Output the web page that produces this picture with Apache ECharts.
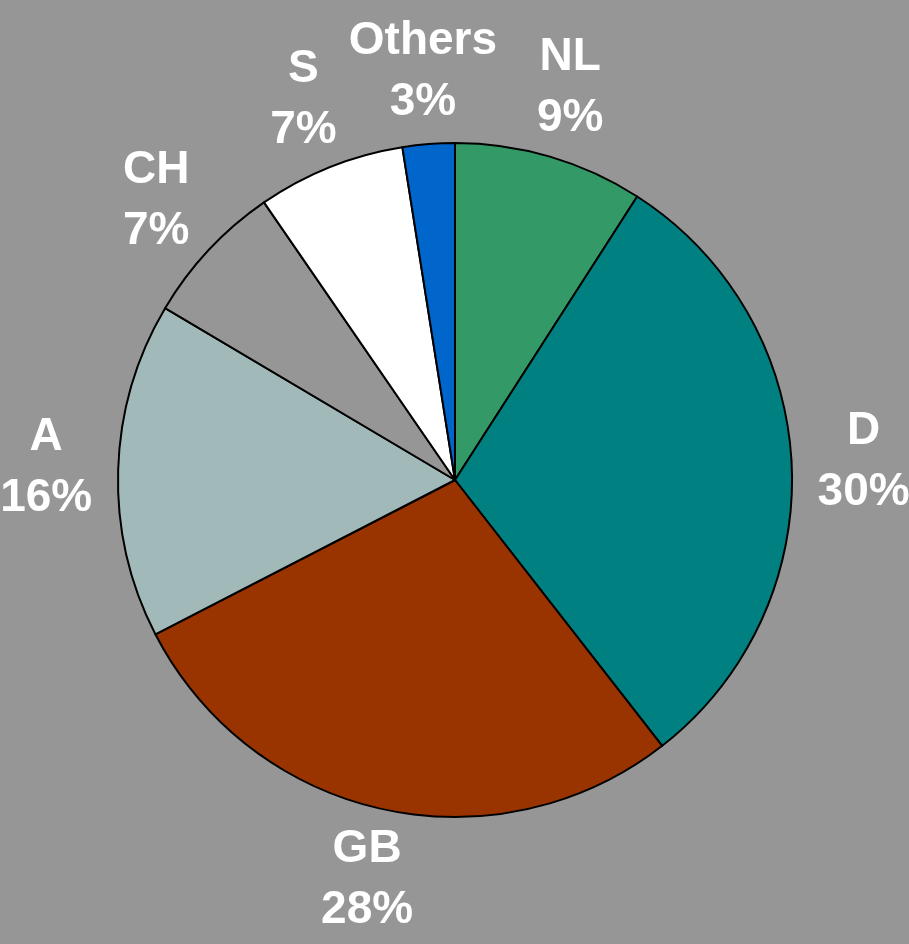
<!DOCTYPE html>
<html>
<head>
<meta charset="utf-8">
<script src="https://cdn.jsdelivr.net/npm/echarts@6/dist/echarts.min.js"></script>
<style>
  html, body { margin: 0; padding: 0; background: #969696; }
  #pie { width: 909px; height: 944px; }
</style>
</head>
<body>
<div id="pie"></div>
<script>
// shares, clockwise from 12 o'clock
var countries = ['NL', 'D', 'GB', 'A', 'CH', 'S', 'Others'];
var shares = [9.1, 30.4, 28.0, 16.1, 6.9, 7.1, 2.5];
var sliceColors = ['#339966', '#008080', '#993300', '#a2b9b9', '#969696', '#ffffff', '#0066cc'];

var pieData = countries.map(function (c, i) {
    return { name: c, value: shares[i], itemStyle: { color: sliceColors[i] } };
});
var labelData = countries.map(function (c, i) {
    return { name: c, value: shares[i] };
});

var pieChart = echarts.init(document.getElementById('pie'));
pieChart.setOption({
    backgroundColor: '#969696',
    animation: false,
    series: [{
        type: 'pie',
        center: [455, 480],
        radius: [0, 337],
        startAngle: 90,
        clockwise: true,
        data: pieData,
        itemStyle: { borderColor: '#000', borderWidth: 2 },
        label: { show: false },
        labelLine: { show: false },
        emphasis: { disabled: true }
    }, {
        // invisible ring only used to place the labels
        type: 'pie',
        center: [455, 480],
        radius: [396, 416],
        startAngle: 90,
        clockwise: true,
        silent: true,
        data: labelData,
        itemStyle: { color: 'rgba(0,0,0,0)', borderWidth: 0 },
        label: {
            show: true,
            position: 'inside',
            color: '#fff',
            fontFamily: 'Liberation Sans, Arial, sans-serif',
            fontWeight: 'bold',
            fontSize: 46,
            lineHeight: 61,
            formatter: function (p) {
                return p.name + '\n' + Math.round(p.value) + '%';
            }
        },
        labelLine: { show: false },
        emphasis: { disabled: true }
    }]
});
</script>
</body>
</html>
